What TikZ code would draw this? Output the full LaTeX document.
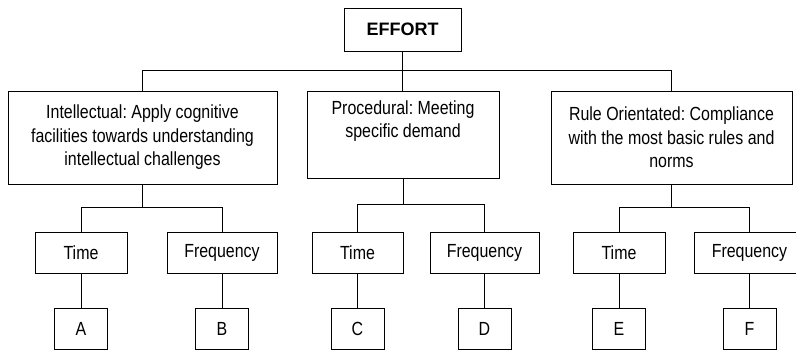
\documentclass[tikz,border=0pt]{standalone}
\usepackage{fontspec}
\setmainfont{Liberation Sans}[FakeStretch=0.84]
\newfontfamily\widesans{Liberation Sans}
\usepackage{tikz}
\usetikzlibrary{positioning}
\frenchspacing

\begin{document}
\begin{tikzpicture}[x=1pt, y=-1pt,
  box/.style={draw, line width=0.9pt, align=center, inner sep=0pt,
              font=\fontsize{19}{23.5}\selectfont},
  sub/.style={box, minimum height=41pt},
  leaf/.style={box, minimum width=53pt, minimum height=41pt},
  con/.style={line width=0.9pt}]
\useasboundingbox (0,0) rectangle (796,350);
% top level
\node[box, minimum width=117pt, minimum height=43pt, font=\widesans\fontsize{18}{20}\selectfont\bfseries]
  (effort) at (402.5,29.5) {EFFORT};
% the three kinds of effort
\node[box, minimum width=269pt, minimum height=93pt] (intel) at (142.5,137.5)
  {Intellectual: Apply cognitive\\ facilities towards understanding\\ intellectual challenges};
\node[box, minimum width=192pt, minimum height=87pt] (proc) at (403,134.5)
  {Procedural: Meeting\\ specific demand\\ \strut};
\node[box, minimum width=241pt, minimum height=93pt] (rule) at (671.5,137.5)
  {Rule Orientated: Compliance\\ with the most basic rules and\\ norms};
% time / frequency
\node[sub, minimum width=92pt]  (ti1) at (81,252.5)    {Time};
\node[sub, minimum width=110pt] (fr1) at (222,252.5)   {Frequency};
\node[sub, minimum width=91pt]  (ti2) at (357.5,252.5) {Time};
\node[sub, minimum width=109pt] (fr2) at (484.5,252.5) {Frequency};
\node[sub, minimum width=92pt]  (ti3) at (619,252.5)   {Time};
\node[sub, minimum width=110pt] (fr3) at (749.5,252.5) {Frequency};
% leaves
\node[leaf] (a) at (81,328.5)    {A};
\node[leaf] (b) at (222,328.5)   {B};
\node[leaf] (c) at (357.5,328.5) {C};
\node[leaf] (d) at (484.5,328.5) {D};
\node[leaf] (e) at (619,328.5)   {E};
\node[leaf] (f) at (749.5,328.5) {F};
% connectors
\draw[con] (effort.south) -- (effort.south |- proc.north);
\draw[con] (intel.north) -- ++(0,-20) -| (rule.north);
\draw[con] (intel.south) -- ++(0,24);
\draw[con] (ti1.north) -- ++(0,-24) -| (fr1.north);
\draw[con] (proc.south) -- ++(0,27);
\draw[con] (ti2.north) -- ++(0,-27) -| (fr2.north);
\draw[con] (rule.south) -- ++(0,24);
\draw[con] (ti3.north) -- ++(0,-24) -| (fr3.north);
\draw[con] (ti1) -- (a);
\draw[con] (fr1) -- (b);
\draw[con] (ti2) -- (c);
\draw[con] (fr2) -- (d);
\draw[con] (ti3) -- (e);
\draw[con] (fr3) -- (f);
\end{tikzpicture}
\end{document}
